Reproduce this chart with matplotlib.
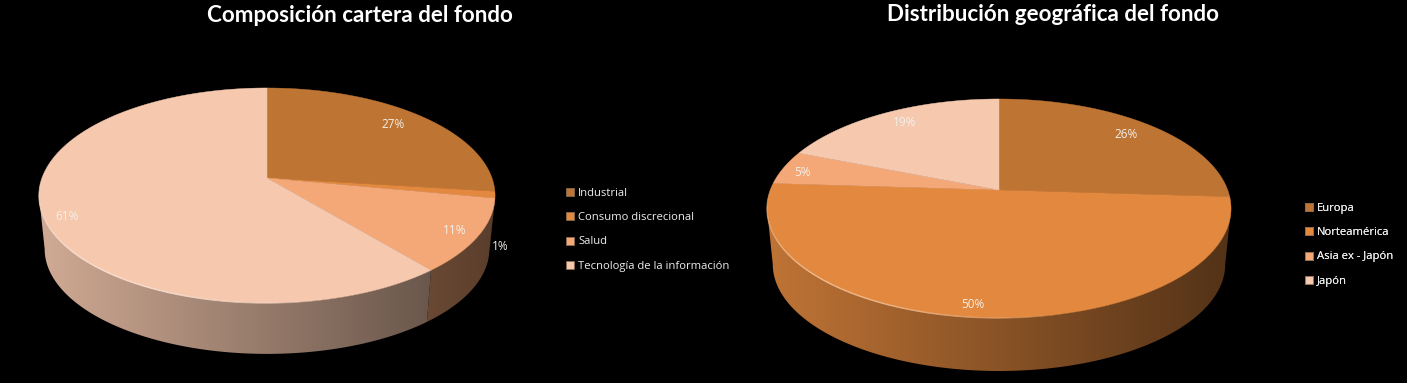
import numpy as np
import matplotlib
matplotlib.use("Agg")
import matplotlib.pyplot as plt
from matplotlib.patches import Polygon, Patch
from matplotlib.collections import LineCollection

# ---- data ----
title_left = "Composición cartera del fondo"
cats_left = ["Industrial", "Consumo discrecional", "Salud", "Tecnología de la información"]
vals_left = [27, 1, 11, 61]
title_right = "Distribución geográfica del fondo"
cats_right = ["Europa", "Norteamérica", "Asia ex - Japón", "Japón"]
vals_right = [26, 50, 5, 19]

# ---- style / layout ----
colors = ["#BE7533", "#E3893F", "#F4A877", "#F6C9AF"]
W, H = 1407, 383
plt.rcParams["font.family"] = ["Open Sans", "DejaVu Sans"]
fig = plt.figure(figsize=(W / 100, H / 100), dpi=100, facecolor="black")
ax = fig.add_axes([0, 0, 1, 1])


def pie3d(vals, cols, cx, cy, R, Ry, k, depth, label_xy):
    ymid = cy + (Ry / (1 - k) - Ry / (1 + k)) / 2
    s = 0.975

    def rim(t):
        w = 1 + k * np.cos(t)
        return cx + R * np.sin(t) / w, cy - Ry * np.cos(t) / w

    def low(t):
        x, y = rim(t)
        return cx + (x - cx) * s, ymid + depth + (y - ymid) * s

    edges = np.cumsum([0] + list(vals)) / sum(vals) * 2 * np.pi
    # the wall runs between the two points where the rim is widest
    grid = np.linspace(np.pi / 2, np.pi, 2000)
    t_right = grid[np.argmax(rim(grid)[0])]
    t_left = 2 * np.pi - t_right
    x0, x1 = cx - R * 1.03, cx + R * 1.03
    ytop, ybot = cy - Ry * 1.3, cy + Ry * 1.3 + depth + 30
    frac = np.linspace(0, 1, 512)
    shade = (0.85 - 0.49 * frac)[None, :, None]
    # side wall, one gradient image clipped to each slice's wall
    for i, c in enumerate(cols):
        a = max(edges[i], t_right)
        b = min(edges[i + 1], t_left)
        if b <= a:
            continue
        t = np.linspace(a, b, 300)
        xr, yr = rim(t)
        xl, yl = low(t)
        pts = np.column_stack([np.r_[xr, xl[::-1]], np.r_[yr, yl[::-1]]])
        clip = Polygon(pts, closed=True, transform=ax.transData)
        rgb = np.array(matplotlib.colors.to_rgb(c))[None, None, :] * shade
        im = ax.imshow(rgb, extent=(x0, x1, ybot, ytop), aspect="auto", zorder=1, interpolation="bilinear")
        im.set_clip_path(clip)
    # top faces
    for i, c in enumerate(cols):
        t = np.linspace(edges[i], edges[i + 1], max(3, int(vals[i] * 8)))
        x, y = rim(t)
        pts = np.column_stack([np.r_[cx, x], np.r_[cy, y]])
        ax.add_patch(Polygon(pts, closed=True, facecolor=c, edgecolor=c, lw=0.3, zorder=2))
    # bright front rim highlight, fading out at both ends
    t = np.radians(np.linspace(165, 275, 160))
    x, y = rim(t)
    i = np.searchsorted(edges, np.pi * 1.2, side="right") - 1
    hl = np.array(matplotlib.colors.to_rgb(cols[i]))
    hl = hl + (1 - hl) * 0.45
    segs = np.stack([np.column_stack([x[:-1], y[:-1]]), np.column_stack([x[1:], y[1:]])], axis=1)
    alpha = np.sin(np.linspace(0, np.pi, len(segs)))
    lc = LineCollection(segs, colors=[(*hl, al) for al in alpha], linewidths=1.0, zorder=3)
    ax.add_collection(lc)
    # labels
    for v, (lx, ly) in zip(vals, label_xy):
        ax.text(lx, ly, f"{v}%", color="#F4EFEA", fontsize=8.5, ha="center", va="center", zorder=4)


pie3d(vals_left, colors, 267, 178, 225, 104.7, 0.163, 53.5,
      [(393, 124), (500, 247), (455, 230), (67, 217)])
pie3d(vals_right, colors, 999, 190, 228.7, 106.4, 0.169, 55.7,
      [(1126, 134), (973, 304), (802, 173), (905, 123)])

title_font = dict(color="white", fontsize=16.1, fontweight="bold", family=["Lato", "DejaVu Sans"],
                  ha="center", va="center")
ax.text(360, 15, title_left, **title_font)
ax.text(1053, 14.5, title_right, **title_font)

ax.set_xlim(0, W)
ax.set_ylim(H, 0)
ax.axis("off")


def legend(cats, x, y):
    handles = [Patch(facecolor=c, edgecolor="#8A6A50", lw=0.6) for c in colors]
    lg = ax.legend(handles, cats, loc="upper left", bbox_to_anchor=(x, y), bbox_transform=ax.transData,
                   frameon=False, fontsize=8.1, labelcolor="#EDEDED", handlelength=0.72, handleheight=0.72,
                   handletextpad=0.35, labelspacing=1.2, borderpad=0, borderaxespad=0)
    ax.add_artist(lg)


legend(cats_left, 566, 187.5)
legend(cats_right, 1305, 202.5)

fig.savefig("out.png", dpi=100, facecolor="black")
